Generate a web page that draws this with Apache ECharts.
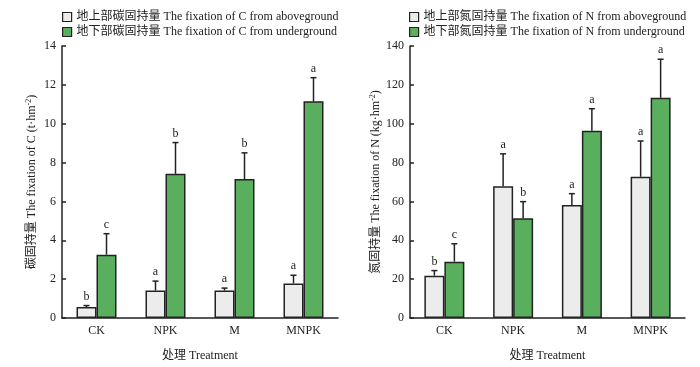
<!DOCTYPE html>
<html><head><meta charset="utf-8">
<script src="https://cdn.jsdelivr.net/npm/echarts@6/dist/echarts.min.js"></script>
<style>html,body{margin:0;padding:0;background:#fff}#c{width:700px;height:367px}</style>
</head><body><div id="c"></div>
<script>
const categories = ['CK', 'NPK', 'M', 'MNPK'];
const cAbove = [0.56, 1.41, 1.41, 1.78];
const cAboveSd = [0.08, 0.49, 0.13, 0.42];
const cAboveSig = ['b', 'a', 'a', 'a'];
const cUnder = [3.26, 7.42, 7.15, 11.15];
const cUnderSd = [1.08, 1.61, 1.35, 1.22];
const cUnderSig = ['c', 'b', 'b', 'a'];
const nAbove = [21.8, 67.8, 58.1, 72.7];
const nAboveSd = [2.6, 16.7, 5.9, 18.4];
const nAboveSig = ['b', 'a', 'a', 'a'];
const nUnder = [29.0, 51.4, 96.4, 113.3];
const nUnderSd = [9.2, 8.5, 11.3, 19.9];
const nUnderSig = ['c', 'b', 'a', 'a'];
const cTicks = {min: 0, max: 14, interval: 2};
const nTicks = {min: 0, max: 140, interval: 20};

const FONT = '"Liberation Serif", "Noto Sans CJK SC", serif';
const INK = '#222';
const GRAY = '#ececec', GREEN = '#5aaf5e';

function errSeries(name, gi, vals, sds, sigs, off) {
  return {
    type: 'custom', name: name + '_err', xAxisIndex: gi, yAxisIndex: gi, z: 5,
    data: vals.map((v, i) => [i, v, v + sds[i]]),
    renderItem: function (params, api) {
      const p0 = api.coord([api.value(0), api.value(1)]);
      const p1 = api.coord([api.value(0), api.value(2)]);
      const x = p0[0] + off;
      const sig = sigs[params.dataIndex];
      return {type: 'group', children: [
        {type: 'line', shape: {x1: x, y1: p0[1], x2: x, y2: p1[1]}, style: {stroke: INK, lineWidth: 1.5}},
        {type: 'line', shape: {x1: x - 3, y1: p1[1], x2: x + 3, y2: p1[1]}, style: {stroke: INK, lineWidth: 1.5}},
        {type: 'text', style: {x: x, y: p1[1] - 3, text: sig, textAlign: 'center', textVerticalAlign: 'bottom', font: '12px ' + FONT, fill: INK}}
      ]};
    }
  };
}

function barSeries(name, gi, vals, color) {
  return {type: 'bar', name: name, xAxisIndex: gi, yAxisIndex: gi, data: vals, barWidth: 20, barGap: '0%',
    itemStyle: {color: color, borderColor: INK, borderWidth: 1.5}};
}

function xAx(gi) {
  return {type: 'category', gridIndex: gi, data: categories,
    axisLine: {lineStyle: {color: INK, width: 1.5}},
    axisTick: {inside: true, length: 5, lineStyle: {color: INK, width: 1.5}},
    axisLabel: {fontFamily: FONT, fontSize: 12, color: INK, margin: 7},
    name: '处理 Treatment', nameLocation: 'middle', nameGap: 32,
    nameTextStyle: {fontFamily: FONT, fontSize: 12, color: INK}};
}
function yAx(gi, t, label, gap) {
  return {type: 'value', gridIndex: gi, min: t.min, max: t.max, interval: t.interval,
    axisLine: {show: true, lineStyle: {color: INK, width: 1.5}},
    axisTick: {show: true, inside: true, length: 4, lineStyle: {color: INK, width: 1.5}},
    splitLine: {show: false},
    axisLabel: {fontFamily: FONT, fontSize: 12, color: INK, margin: 6},
    name: label, nameLocation: 'middle', nameGap: gap,
    nameTextStyle: {fontFamily: FONT, fontSize: 12, color: INK,
      rich: {sup: {fontFamily: FONT, fontSize: 8, verticalAlign: 'top', color: INK, padding: [0, 0, 6, 0]}}}};
}

const chart = echarts.init(document.getElementById('c'), null, {renderer: 'canvas'});
const legStyle = {fontFamily: FONT, fontSize: 12, color: INK};
function leg(left, names) {
  return {orient: 'vertical', left: left, top: 6, itemWidth: 9, itemHeight: 9, itemGap: 3, icon: 'rect',
    textStyle: legStyle, data: names, itemStyle: {borderColor: INK, borderWidth: 1.2}};
}
chart.setOption({
  animation: false,
  legend: [
    leg(57, ['地上部碳固持量 The fixation of C from aboveground', '地下部碳固持量 The fixation of C from underground']),
    leg(404, ['地上部氮固持量 The fixation of N from aboveground', '地下部氮固持量 The fixation of N from underground'])
  ],
  grid: [
    {left: 62, top: 46, width: 276, height: 275},
    {left: 410, top: 46, width: 275, height: 274}
  ],
  xAxis: [xAx(0), xAx(1)],
  yAxis: [yAx(0, cTicks, '碳固持量 The fixation of C (t·hm{sup|-2})', 23), yAx(1, nTicks, '氮固持量 The fixation of N (kg·hm{sup|-2})', 27)],
  series: [
    barSeries('地上部碳固持量 The fixation of C from aboveground', 0, cAbove, GRAY),
    barSeries('地下部碳固持量 The fixation of C from underground', 0, cUnder, GREEN),
    errSeries('ca', 0, cAbove, cAboveSd, cAboveSig, -10),
    errSeries('cu', 0, cUnder, cUnderSd, cUnderSig, 10),
    barSeries('地上部氮固持量 The fixation of N from aboveground', 1, nAbove, GRAY),
    barSeries('地下部氮固持量 The fixation of N from underground', 1, nUnder, GREEN),
    errSeries('na', 1, nAbove, nAboveSd, nAboveSig, -10),
    errSeries('nu', 1, nUnder, nUnderSd, nUnderSig, 10)
  ]
});
</script></body></html>
